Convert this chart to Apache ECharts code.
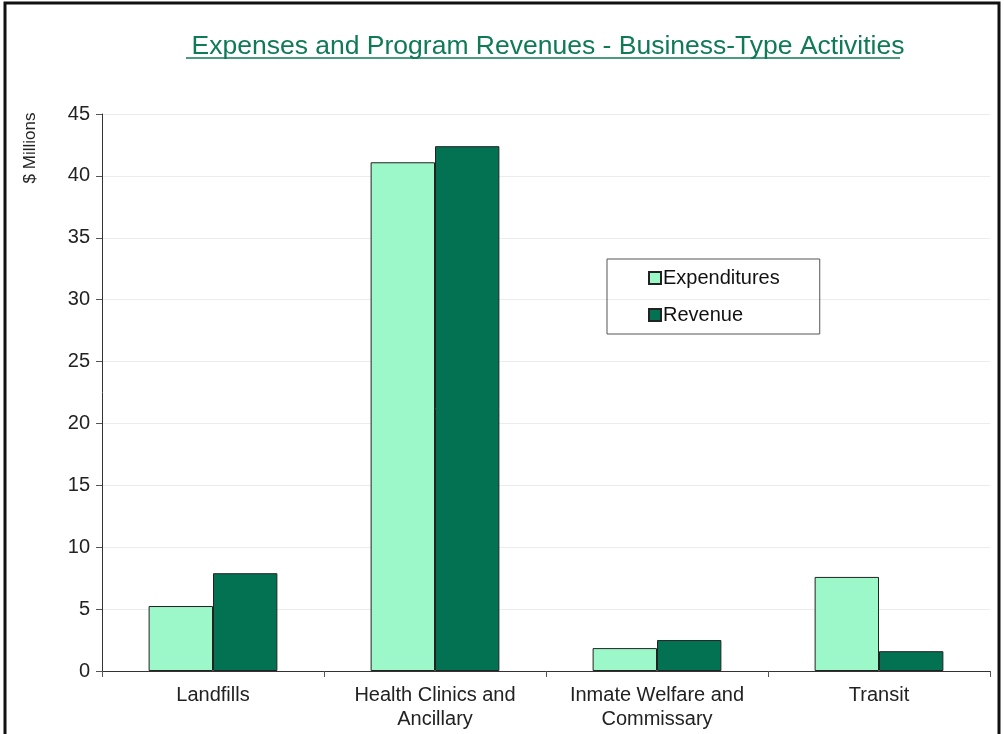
<!DOCTYPE html>
<html>
<head>
<meta charset="utf-8">
<script src="https://cdn.jsdelivr.net/npm/echarts@6/dist/echarts.min.js"></script>
<style>
    html, body { margin: 0; padding: 0; background: #fff; }
    #chart { width: 1004px; height: 734px; }
</style>
</head>
<body>
<div id="chart"></div>
<script>
// data ($ millions)
var categories = ["Landfills", "Health Clinics and\nAncillary", "Inmate Welfare and\nCommissary", "Transit"];
var expenditures = [5.25, 41.1, 1.85, 7.6];
var revenue = [7.9, 42.4, 2.5, 1.6];
var seriesNames = ["Expenditures", "Revenue"];

var FONT = "Liberation Sans, Arial, sans-serif";
var LIGHT = "#9cf7c9";
var DARK = "#037253";

var myChart = echarts.init(document.getElementById("chart"));

var option = {
    backgroundColor: "#fff",
    animation: false,
    title: {
        text: "Expenses and Program Revenues - Business-Type Activities",
        left: 543,
        top: 28,
        textAlign: "center",
        textStyle: {fontFamily: FONT, fontSize: 26.5, fontWeight: "normal", color: "#0f7a55"}
    },
    grid: {left: 102, right: 14, top: 114, bottom: 63},
    legend: {
        data: seriesNames,
        orient: "vertical",
        left: 607,
        top: 259,
        padding: [9, 40, 9, 41],
        itemGap: 17,
        itemWidth: 12,
        itemHeight: 12,
        icon: "rect",
        borderColor: "#555",
        borderWidth: 1,
        textStyle: {fontFamily: FONT, fontSize: 20, color: "#111", padding: [0, 0, 0, -3]}
    },
    xAxis: {
        type: "category",
        data: categories,
        axisLine: {lineStyle: {color: "#333", width: 1}},
        axisTick: {show: true, interval: 0, alignWithLabel: false, length: 6, lineStyle: {color: "#555"}},
        axisLabel: {interval: 0, fontFamily: FONT, fontSize: 20, color: "#222", lineHeight: 24, margin: 12}
    },
    yAxis: {
        type: "value",
        min: 0,
        max: 45,
        interval: 5,
        axisLine: {show: true, lineStyle: {color: "#333", width: 1}},
        axisTick: {show: true, length: 6, lineStyle: {color: "#555"}},
        axisLabel: {fontFamily: FONT, fontSize: 20, color: "#222", margin: 12},
        splitLine: {show: true, lineStyle: {color: "#ececec", width: 1}}
    },
    series: [
        {
            name: seriesNames[0],
            type: "bar",
            data: expenditures,
            barGap: "0%",
            barCategoryGap: "42%",
            itemStyle: {color: LIGHT, borderColor: "#222", borderWidth: 1}
        },
        {
            name: seriesNames[1],
            type: "bar",
            data: revenue,
            itemStyle: {color: DARK, borderColor: "#222", borderWidth: 1}
        }
    ],
    graphic: [
        // outer frame
        {type: "rect", shape: {x: 5, y: 3, width: 994, height: 740}, style: {fill: "none", stroke: "#111", lineWidth: 3}, silent: true},
        // title underline
        {type: "line", shape: {x1: 186, y1: 58, x2: 900, y2: 58}, style: {stroke: "#0f7a55", lineWidth: 1.5}, silent: true},
        // y axis name
        {
            type: "text",
            x: 30,
            y: 148,
            rotation: Math.PI / 2,
            style: {text: "$ Millions", fontFamily: FONT, fontSize: 17, fill: "#222", textAlign: "center", textVerticalAlign: "middle"},
            silent: true
        }
    ]
};
myChart.setOption(option);
</script>
</body>
</html>
